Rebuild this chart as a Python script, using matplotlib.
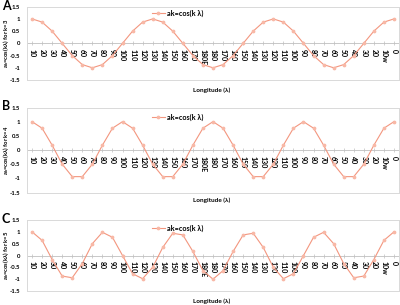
import matplotlib
matplotlib.use('Agg')
import matplotlib.pyplot as plt

plt.rcParams['font.family'] = ['Lato', 'DejaVu Sans']

# category labels along the longitude axis
lon_labels = ['10', '20', '30', '40', '50', '60', '70', '80', '90', '100',
              '110', '120', '130', '140', '150', '160', '170', '180E',
              '180', '170', '160', '150', '140', '130', '120', '110', '100',
              '90', '80', '70', '60', '50', '40', '30', '20', '10w', '0']

# k=3
ak3 = [1, 0.87, 0.5, 0, -0.5, -0.87, -1, -0.87, -0.5, 0, 0.5, 0.87,
       1, 0.87, 0.5, 0, -0.5, -0.87, -1, -0.87, -0.5, 0, 0.5, 0.87,
       1, 0.87, 0.5, 0, -0.5, -0.87, -1, -0.87, -0.5, 0, 0.5, 0.87, 1]
# k=4
ak4 = [1, 0.77, 0.17, -0.5, -0.94, -0.94, -0.5, 0.17, 0.77,
       1, 0.77, 0.17, -0.5, -0.94, -0.94, -0.5, 0.17, 0.77,
       1, 0.77, 0.17, -0.5, -0.94, -0.94, -0.5, 0.17, 0.77,
       1, 0.77, 0.17, -0.5, -0.94, -0.94, -0.5, 0.17, 0.77, 1]
# k=5
ak5 = [1, 0.64, -0.17, -0.87, -0.94, -0.34, 0.5, 0.98, 0.77, 0,
       -0.77, -0.98, -0.5, 0.34, 0.94, 0.87, 0.17, -0.64, -1, -0.64,
       0.17, 0.87, 0.94, 0.34, -0.5, -0.98, -0.77, 0, 0.77, 0.98,
       0.5, -0.34, -0.94, -0.87, -0.17, 0.64, 1]

panels = [('A', ak3, 3), ('B', ak4, 4), ('C', ak5, 5)]

# axes boxes in pixels (top, bottom) for a 400x305 figure
boxes = [(6.7, 80), (107.5, 192.5), (220, 291)]
xlabel_y = [90, 200, 301]
leg_y = [13, 117, 228]

W, H = 400.0, 305.0
fig = plt.figure(figsize=(4.0, 3.05), dpi=100)
line_c = '#f3967f'
mark_c = '#f8b8a6'
grey = '#d9d9d9'

x = list(range(len(lon_labels)))

for i, (letter, vals, k) in enumerate(panels):
    top, bot = boxes[i]
    ax = fig.add_axes([27 / W, 1 - bot / H, 372 / W, (bot - top) / H])
    ax.plot(x, vals, color=line_c, lw=0.8, marker='o', ms=1.7,
            mfc=mark_c, mec=mark_c, label='ak=cos(k λ)')
    ax.set_xlim(-0.5, len(x) - 0.5)
    ax.set_ylim(-1.5, 1.5)
    ax.set_yticks([1.5, 1, 0.5, 0, -0.5, -1, -1.5])
    ax.set_yticklabels(['1.5', '1', '0.5', '0', '-0.5', '-1', '-1.5'],
                       fontsize=4.3, fontweight='bold')
    ax.tick_params(axis='y', length=0, pad=5)
    ax.tick_params(axis='x', bottom=False, labelbottom=False)
    for s in ax.spines.values():
        s.set_color(grey)
        s.set_linewidth(0.7)
    ax.axhline(0, color='#bfbfbf', lw=0.6, zorder=1)

    # category axis crossing at y=0
    sec = ax.secondary_xaxis(0.4999)
    sec.set_xticks(x)
    sec.set_xticklabels(lon_labels, fontsize=5, fontweight='bold')
    sec.tick_params(axis='x', direction='inout', length=3, width=0.5,
                    color='#bfbfbf', pad=2.5, labelrotation=-90)
    for lbl in sec.get_xticklabels():
        lbl.set_verticalalignment('top')
        lbl.set_horizontalalignment('center')
    sec.spines['bottom'].set_visible(False)

    ax.set_ylabel(r'a$_\mathregular{k}$=cos(kλ) for k=%d' % k, fontsize=4.2,
                  fontweight='bold')
    ax.yaxis.set_label_coords(-16 / 372, 0.5)

    ax.legend(loc='center left', bbox_to_anchor=(145 / W, 1 - leg_y[i] / H),
              bbox_transform=fig.transFigure, frameon=False,
              prop={'size': 5.2, 'weight': 'bold'}, handlelength=1.8,
              handletextpad=0.4)

    fig.text(212 / W, 1 - xlabel_y[i] / H, 'Longitude (λ)', fontsize=4.6,
             fontweight='bold', ha='center', va='center')
    fig.text(2 / W, 1 - (boxes[i][0] - 1) / H, letter, fontsize=9,
             fontweight='bold', ha='left', va='center')

fig.savefig('out.png', dpi=100)
